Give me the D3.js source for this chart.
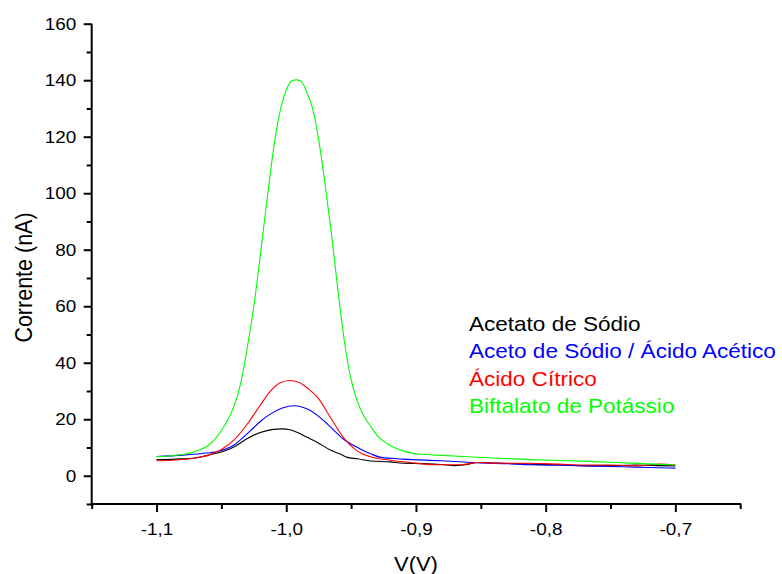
<!DOCTYPE html>
<html>
<head>
<meta charset="utf-8">
<script src="https://cdn.jsdelivr.net/npm/d3@7"></script>
<style>
  html, body { margin: 0; padding: 0; background: #fff; }
  svg { display: block; font-family: "Liberation Sans", Arial, sans-serif; }
</style>
</head>
<body>
<svg id="chart" width="782" height="574"></svg>
<script>
// ---- Data ----
const seriesNames = ["Acetato de Sódio", "Aceto de Sódio / Ácido Acético", "Ácido Cítrico", "Biftalato de Potássio"];
const seriesColors = ["#000000", "#0000ff", "#ff0000", "#00ff00"];

const vBlack = [-1.100, -1.085, -1.070, -1.060, -1.050, -1.040, -1.030, -1.020, -1.010, -1.003, -0.997, -0.990, -0.984, -0.976, -0.966, -0.958, -0.953, -0.945, -0.935, -0.920, -0.910, -0.895, -0.880, -0.870, -0.860, -0.853, -0.840, -0.812, -0.790, -0.768, -0.745, -0.730, -0.715, -0.700];
const iBlack = [5.7, 5.9, 6.3, 7.3, 8.4, 10.3, 13.2, 15.3, 16.4, 16.6, 16.3, 15.0, 13.6, 11.8, 9.1, 7.6, 6.5, 6.0, 5.2, 4.9, 4.4, 4.3, 4.0, 3.6, 4.0, 4.7, 4.5, 4.1, 3.9, 3.5, 3.6, 3.8, 3.6, 3.5];

const vBlue = [-1.100, -1.080, -1.065, -1.053, -1.040, -1.028, -1.020, -1.012, -1.003, -0.994, -0.988, -0.981, -0.975, -0.968, -0.956, -0.943, -0.935, -0.927, -0.910, -0.880, -0.858, -0.830, -0.812, -0.790, -0.768, -0.740, -0.720, -0.700];
const iBlue = [6.8, 7.3, 7.9, 8.6, 11.0, 15.8, 19.2, 21.9, 24.0, 24.8, 24.3, 23.0, 21.0, 18.2, 13.0, 9.5, 7.8, 6.5, 5.9, 5.3, 4.7, 4.3, 3.9, 3.7, 3.5, 3.2, 2.9, 2.7];

const vRed = [-1.100, -1.085, -1.070, -1.060, -1.050, -1.040, -1.030, -1.020, -1.012, -1.005, -0.997, -0.990, -0.983, -0.976, -0.966, -0.956, -0.946, -0.935, -0.920, -0.905, -0.884, -0.865, -0.853, -0.835, -0.812, -0.790, -0.770, -0.750, -0.730, -0.712, -0.700];
const iRed = [5.3, 5.6, 6.3, 7.3, 9.3, 12.8, 18.3, 25.0, 30.0, 32.8, 33.7, 33.0, 30.8, 27.8, 20.7, 13.6, 9.0, 6.7, 5.5, 4.7, 3.9, 3.9, 4.7, 4.4, 4.4, 4.1, 3.8, 3.8, 3.5, 4.1, 3.8];

const vGreen = [-1.100, -1.090, -1.080, -1.070, -1.060, -1.055, -1.050, -1.045, -1.040, -1.035, -1.030, -1.025, -1.020, -1.015, -1.010, -1.005, -1.000, -0.996, -0.992, -0.988, -0.984, -0.980, -0.975, -0.970, -0.965, -0.960, -0.955, -0.950, -0.945, -0.940, -0.935, -0.930, -0.922, -0.910, -0.900, -0.884, -0.860, -0.840, -0.812, -0.790, -0.768, -0.745, -0.722, -0.710, -0.700];
const iGreen = [6.8, 7.0, 7.5, 8.6, 10.8, 13.0, 16.0, 19.8, 25.0, 33.0, 45.5, 60.0, 78.0, 97.0, 115.0, 128.5, 136.5, 139.6, 140.1, 139.3, 135.5, 130.5, 119.0, 103.0, 85.0, 65.0, 47.0, 34.0, 26.0, 21.0, 17.5, 14.3, 11.3, 8.8, 7.8, 7.3, 6.7, 6.3, 5.7, 5.4, 5.1, 4.7, 4.2, 4.0, 3.8];

const seriesV = [vBlack, vBlue, vRed, vGreen];
const seriesI = [iBlack, iBlue, iRed, iGreen];

const xMajorTicks = [-1.1, -1.0, -0.9, -0.8, -0.7];
const xMinorTicks = [-1.15, -1.05, -0.95, -0.85, -0.75, -0.65];
const yMajorTicks = [0, 20, 40, 60, 80, 100, 120, 140, 160];
const yMinorTicks = [-10, 10, 30, 50, 70, 90, 110, 130, 150];

const xLabel = "V(V)";
const yLabel = "Corrente (nA)";

// ---- Layout ----
const svg = d3.select("#chart");
const mLeft = 91.7, mRight = 740.2, mTop = 23.7, mBottom = 504;
const stretch = 1.1; // the reference text is slightly wide

const x = d3.scaleLinear().domain([-1.15, -0.65]).range([mLeft, mRight]);
const y = d3.scaleLinear().domain([-10, 160]).range([mBottom, mTop]);

const fmtX = v => d3.format(".1f")(v).replace("−", "-").replace(".", ",");

// minor ticks
svg.append("g").attr("transform", `translate(0,${mBottom})`)
  .call(d3.axisBottom(x).tickValues(xMinorTicks).tickSize(5).tickSizeOuter(0).tickFormat(""))
  .call(g => g.select(".domain").remove())
  .call(g => g.selectAll("line").attr("stroke", "#000").attr("stroke-width", 2));
svg.append("g").attr("transform", `translate(${mLeft},0)`)
  .call(d3.axisLeft(y).tickValues(yMinorTicks).tickSize(5).tickSizeOuter(0).tickFormat(""))
  .call(g => g.select(".domain").remove())
  .call(g => g.selectAll("line").attr("stroke", "#000").attr("stroke-width", 2));

// major axes
const gx = svg.append("g").attr("transform", `translate(0,${mBottom})`)
  .call(d3.axisBottom(x).tickValues(xMajorTicks).tickSize(8).tickSizeOuter(0).tickPadding(10.5).tickFormat(fmtX));
const gy = svg.append("g").attr("transform", `translate(${mLeft},0)`)
  .call(d3.axisLeft(y).tickValues(yMajorTicks).tickSize(8).tickSizeOuter(0).tickPadding(6).tickFormat(d3.format("d")));

[gx, gy].forEach(g => {
  g.select(".domain").attr("stroke", "#000").attr("stroke-width", 2);
  g.selectAll("line").attr("stroke", "#000").attr("stroke-width", 2);
  g.selectAll("text").attr("font-size", 17.2).attr("fill", "#000")
    .attr("font-family", "'Liberation Sans', Arial, sans-serif")
    .attr("transform", `scale(${stretch},1)`);
});
gx.select(".domain").attr("d", `M${mLeft - 1},0H${mRight + 1}`);
gy.select(".domain").attr("d", `M0,${mTop}V${mBottom + 1}`);

// axis titles
svg.append("text")
  .attr("transform", `translate(${(mLeft + mRight) / 2},571) scale(${stretch},1)`)
  .attr("text-anchor", "middle").attr("font-size", 20).attr("fill", "#000").text(xLabel);
svg.append("text")
  .attr("transform", `translate(31.5,277.5) scale(${stretch},1) rotate(-90)`)
  .attr("text-anchor", "middle").attr("font-size", 21.5).attr("fill", "#000").text(yLabel);

// curves
const line = d3.line().x(d => x(d[0])).y(d => y(d[1])).curve(d3.curveMonotoneX);
seriesV.forEach((vs, k) => {
  const pts = vs.map((v, j) => [v, seriesI[k][j]]);
  svg.append("path").datum(pts)
    .attr("fill", "none").attr("stroke", seriesColors[k]).attr("stroke-width", 1.1)
    .attr("d", line);
});

// legend
const legendX = 469, legendY0 = 330.5, legendDy = 27.6;
seriesNames.forEach((name, k) => {
  svg.append("text")
    .attr("transform", `translate(${legendX},${legendY0 + k * legendDy}) scale(${stretch},1)`)
    .attr("font-size", 20.5).attr("fill", seriesColors[k]).text(name);
});
</script>
</body>
</html>
